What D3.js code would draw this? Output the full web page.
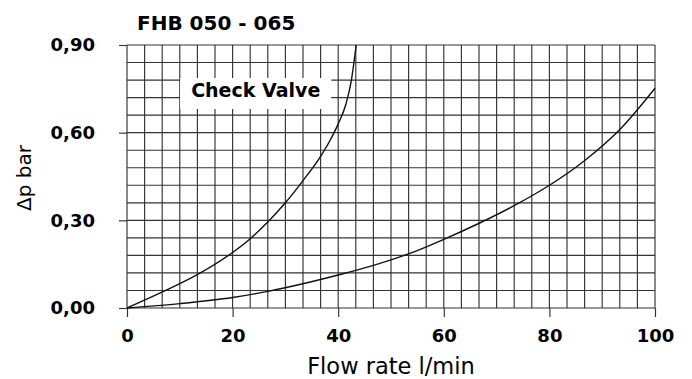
<!DOCTYPE html>
<html>
<head>
<meta charset="utf-8">
<script src="https://cdn.jsdelivr.net/npm/d3@7"></script>
<style>
  html, body { margin: 0; padding: 0; background: #fff; }
  svg { display: block; }
  text { font-family: "DejaVu Sans", sans-serif; fill: #000; }
</style>
</head>
<body>
<svg id="chart" width="692" height="379"></svg>
<script>
// Pressure drop across the check valve, FHB 050 - 065
const title = "FHB 050 - 065";
const seriesLabel = "Check Valve";
const xTitle = "Flow rate l/min";
const yTitle = "Δp bar";

const xTicks = [0, 20, 40, 60, 80, 100];
const yTicks = [0, 0.30, 0.60, 0.90];

// steep curve (left)
const curveA_x = [0, 6.7, 13.4, 20, 23.4, 26.7, 30, 33.3, 36.7, 38.5, 40, 41.5, 42.5, 43.4];
const curveA_y = [0, 0.055, 0.115, 0.190, 0.238, 0.295, 0.360, 0.435, 0.520, 0.575, 0.630, 0.700, 0.780, 0.900];

// flat curve (right)
const curveB_x = [0, 10, 20, 26.7, 33.3, 40, 46.7, 53.3, 60, 66.7, 73.3, 80, 86.7, 93.3, 100];
const curveB_y = [0, 0.015, 0.036, 0.057, 0.083, 0.113, 0.146, 0.185, 0.235, 0.290, 0.350, 0.420, 0.505, 0.610, 0.752];

const svg = d3.select("#chart");
const plot = { left: 127, right: 655, top: 45, bottom: 308 };

const x = d3.scaleLinear().domain([0, 100]).range([plot.left, plot.right]);
const y = d3.scaleLinear().domain([0, 0.9]).range([plot.bottom, plot.top]);

// fine grid: 30 columns, 15 rows
const gridX = d3.range(0, 31).map(i => i * 100 / 30);
const gridY = d3.range(0, 16).map(i => i * 0.06);

const grid = svg.append("g").attr("stroke", "#333").attr("stroke-width", 1.15);
grid.selectAll("line.v").data(gridX).join("line")
  .attr("class", "v")
  .attr("x1", d => x(d)).attr("x2", d => x(d))
  .attr("y1", y(0.9)).attr("y2", y(0));
grid.selectAll("line.h").data(gridY).join("line")
  .attr("class", "h")
  .attr("x1", x(0)).attr("x2", x(100))
  .attr("y1", d => y(d)).attr("y2", d => y(d));

const fmt = d => d.toFixed(2).replace(".", ",");

// axes
const xAxis = svg.append("g")
  .attr("transform", `translate(0,${plot.bottom})`)
  .call(d3.axisBottom(x).tickValues(xTicks).tickSize(9).tickSizeOuter(0).tickPadding(12).tickFormat(d3.format("d")));
const yAxis = svg.append("g")
  .attr("transform", `translate(${plot.left},0)`)
  .call(d3.axisLeft(y).tickValues(yTicks).tickSize(8).tickSizeOuter(0).tickPadding(24).tickFormat(fmt));

[xAxis, yAxis].forEach(ax => {
  ax.select(".domain").remove();
  ax.selectAll(".tick line").attr("stroke", "#333").attr("stroke-width", 1.15);
  ax.selectAll(".tick text")
    .attr("fill", "#000")
    .style("font-family", "'DejaVu Sans', sans-serif")
    .style("font-weight", "bold")
    .style("font-size", "18px");
});

// curves
const line = d3.line().x(d => x(d[0])).y(d => y(d[1])).curve(d3.curveMonotoneX);
const dataA = curveA_x.map((v, i) => [v, curveA_y[i]]);
const dataB = curveB_x.map((v, i) => [v, curveB_y[i]]);
svg.append("path").datum(dataA).attr("d", line)
  .attr("fill", "none").attr("stroke", "#111").attr("stroke-width", 1.4);
svg.append("path").datum(dataB).attr("d", line)
  .attr("fill", "none").attr("stroke", "#111").attr("stroke-width", 1.4);

// series label on a white box over the grid
const lbl = svg.append("g");
const box = lbl.append("rect").attr("fill", "#fff");
const lblText = lbl.append("text")
  .attr("x", 255.7).attr("y", 97.3)
  .attr("text-anchor", "middle")
  .style("font-weight", "bold").style("font-size", "19px")
  .text(seriesLabel);
const bb = lblText.node().getBBox();
box.attr("x", bb.x - 11).attr("y", 78)
  .attr("width", bb.width + 22).attr("height", 31);

// title
svg.append("text")
  .attr("x", 137).attr("y", 30)
  .style("font-weight", "bold").style("font-size", "20px")
  .text(title);

// axis titles
svg.append("text")
  .attr("x", (plot.left + plot.right) / 2).attr("y", 374)
  .attr("text-anchor", "middle")
  .style("font-size", "22.5px")
  .text(xTitle);
svg.append("text")
  .attr("transform", `translate(31,178) rotate(-90)`)
  .attr("text-anchor", "middle")
  .style("font-size", "20px")
  .text(yTitle);
</script>
</body>
</html>
